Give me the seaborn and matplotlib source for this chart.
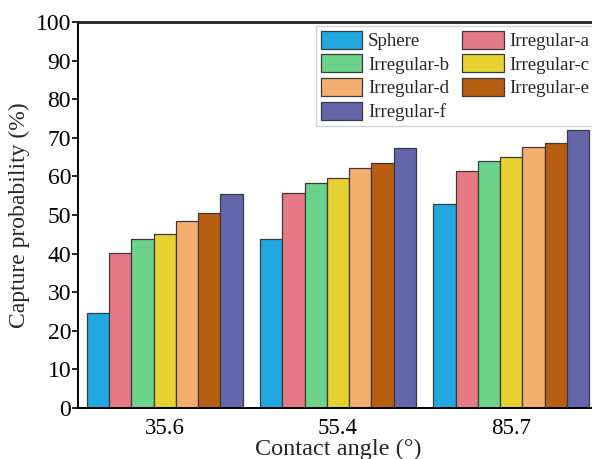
import matplotlib
matplotlib.use("Agg")
import matplotlib.pyplot as plt
import seaborn as sns
import pandas as pd

# Contact angles (x categories) and particle shapes (hue)
angles = ["35.6", "55.4", "85.7"]
shapes = ["Sphere", "Irregular-a", "Irregular-b", "Irregular-c",
          "Irregular-d", "Irregular-e", "Irregular-f"]

# Capture probability (%) per shape, one value per contact angle
sphere = [24.5, 43.9, 52.9]
irregular_a = [40.1, 55.7, 61.5]
irregular_b = [43.7, 58.4, 63.9]
irregular_c = [45.2, 59.7, 65.1]
irregular_d = [48.5, 62.3, 67.7]
irregular_e = [50.4, 63.4, 68.7]
irregular_f = [55.5, 67.4, 72.0]

colors = ["#22a8e0", "#e57a86", "#6dd38a", "#e8d232",
          "#f4ae70", "#b85e10", "#6466ab"]

series = [sphere, irregular_a, irregular_b, irregular_c,
          irregular_d, irregular_e, irregular_f]
rows = []
for name, vals in zip(shapes, series):
    for ang, v in zip(angles, vals):
        rows.append({"angle": ang, "shape": name, "prob": v})
df = pd.DataFrame(rows)

sns.set_theme(style="ticks")
plt.rcParams["font.family"] = ["Liberation Serif", "DejaVu Serif"]

fig = plt.figure(figsize=(5.92, 4.59), dpi=100)
ax = fig.add_axes([78 / 592, 1 - 408 / 459, 520 / 592, 386 / 459])

sns.barplot(data=df, x="angle", y="prob", hue="shape", order=angles,
            hue_order=shapes, palette=colors, width=0.9, saturation=1,
            edgecolor="#3a3a3a", linewidth=0.9, ax=ax)

ax.set_xlim(-0.5, 2.5)
ax.set_ylim(0, 100)
ax.set_yticks(range(0, 101, 10))
ax.set_xlabel("Contact angle (°)", fontsize=17.5, labelpad=0)
ax.set_ylabel("Capture probability (%)", fontsize=17, labelpad=4)
ax.tick_params(axis="y", direction="out", length=4, width=1.2,
               labelsize=17, pad=1, colors="black")
ax.tick_params(axis="x", direction="in", length=4, width=1.2,
               labelsize=16.5, pad=7, colors="black")
for side in ["left", "bottom", "right"]:
    ax.spines[side].set_linewidth(1.4)
    ax.spines[side].set_color("black")
ax.spines["top"].set_linewidth(2.0)
ax.spines["top"].set_color("#222222")

# legend filled row by row across two columns
handles, labels = ax.get_legend_handles_labels()
order = [0, 2, 4, 6, 1, 3, 5]
leg = ax.legend([handles[i] for i in order], [labels[i] for i in order],
                loc="upper left", bbox_to_anchor=(0.458, 0.99),
                borderaxespad=0, ncol=2, fontsize=13.6, frameon=True,
                fancybox=False, handlelength=2.2, handleheight=1.1,
                handletextpad=0.3, labelspacing=0.22, columnspacing=0.7,
                borderpad=0.25)
leg.get_frame().set_edgecolor("#c8c8c8")
leg.get_frame().set_linewidth(1.0)

fig.savefig("out.png", dpi=100)
